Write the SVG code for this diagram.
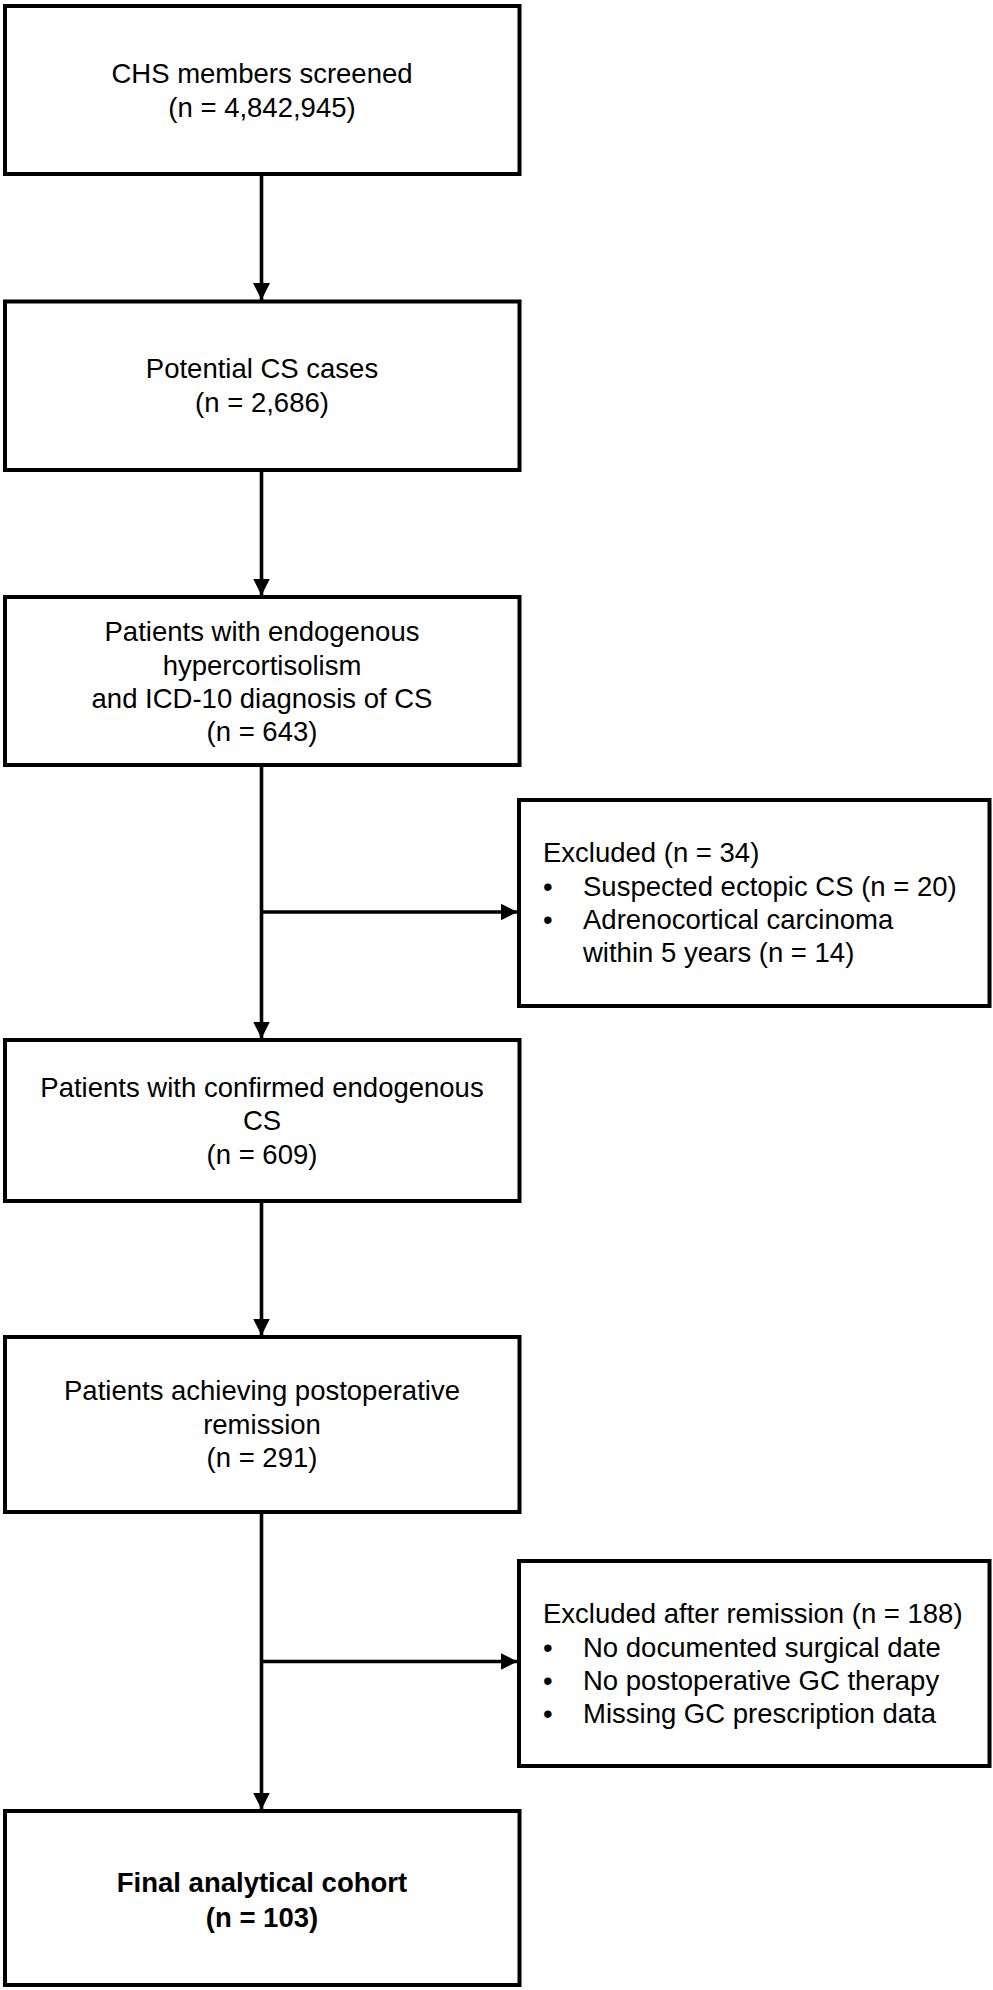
<svg xmlns="http://www.w3.org/2000/svg" width="993" height="1990" viewBox="0 0 993 1990">
<style>
.box{fill:#fff;stroke:#000;stroke-width:4}
.t{font-family:"Liberation Sans",Arial,sans-serif;font-size:27.5px;fill:#000}
.c{text-anchor:middle}
.b{font-weight:bold}
.con{stroke:#000;stroke-width:3.6;fill:none}
</style>
<defs>
<marker id="arr" markerUnits="userSpaceOnUse" markerWidth="18" markerHeight="18" refX="17" refY="8.5" orient="auto">
<path d="M0,0 L17,8.5 L0,17 z" fill="#000"/>
</marker>
</defs>
<rect width="993" height="1990" fill="#fff"/>
<g id="connectors">
<line class="con" x1="261.5" y1="176" x2="261.5" y2="300" marker-end="url(#arr)"/>
<line class="con" x1="261.5" y1="472" x2="261.5" y2="595.5" marker-end="url(#arr)"/>
<line class="con" x1="261.5" y1="767" x2="261.5" y2="1038.5" marker-end="url(#arr)"/>
<line class="con" x1="261.5" y1="912" x2="517.5" y2="912" marker-end="url(#arr)"/>
<line class="con" x1="261.5" y1="1203" x2="261.5" y2="1335.5" marker-end="url(#arr)"/>
<line class="con" x1="261.5" y1="1514" x2="261.5" y2="1809.5" marker-end="url(#arr)"/>
<line class="con" x1="261.5" y1="1661.5" x2="517.5" y2="1661.5" marker-end="url(#arr)"/>
</g>
<g id="n1">
<rect class="box" x="5" y="6" width="514.5" height="168"/>
<text class="t c" x="262" y="83">CHS members screened</text>
<text class="t c" x="262" y="117">(n = 4,842,945)</text>
</g>
<g id="n2">
<rect class="box" x="5" y="301.5" width="514.5" height="168.5"/>
<text class="t c" x="262" y="378">Potential CS cases</text>
<text class="t c" x="262" y="412">(n = 2,686)</text>
</g>
<g id="n3">
<rect class="box" x="5" y="597" width="514.5" height="168"/>
<text class="t c" x="262" y="641">Patients with endogenous</text>
<text class="t c" x="262" y="674.5">hypercortisolism</text>
<text class="t c" x="262" y="708">and ICD-10 diagnosis of CS</text>
<text class="t c" x="262" y="741">(n = 643)</text>
</g>
<g id="n4">
<rect class="box" x="519" y="800" width="470.5" height="206"/>
<text class="t" x="543" y="862">Excluded (n = 34)</text>
<text class="t" x="543" y="896">•</text>
<text class="t" x="583" y="896">Suspected ectopic CS (n = 20)</text>
<text class="t" x="543" y="929">•</text>
<text class="t" x="583" y="929">Adrenocortical carcinoma</text>
<text class="t" x="583" y="962">within 5 years (n = 14)</text>
</g>
<g id="n5">
<rect class="box" x="5" y="1040" width="514.5" height="161"/>
<text class="t c" x="262" y="1097">Patients with confirmed endogenous</text>
<text class="t c" x="262" y="1130">CS</text>
<text class="t c" x="262" y="1163.5">(n = 609)</text>
</g>
<g id="n6">
<rect class="box" x="5" y="1337" width="514.5" height="175"/>
<text class="t c" x="262" y="1400">Patients achieving postoperative</text>
<text class="t c" x="262" y="1433.5">remission</text>
<text class="t c" x="262" y="1467">(n = 291)</text>
</g>
<g id="n7">
<rect class="box" x="519" y="1561" width="470.5" height="205"/>
<text class="t" x="543" y="1623">Excluded after remission (n = 188)</text>
<text class="t" x="543" y="1657">•</text>
<text class="t" x="583" y="1657">No documented surgical date</text>
<text class="t" x="543" y="1690">•</text>
<text class="t" x="583" y="1690">No postoperative GC therapy</text>
<text class="t" x="543" y="1723">•</text>
<text class="t" x="583" y="1723">Missing GC prescription data</text>
</g>
<g id="n8">
<rect class="box" x="5" y="1811" width="514.5" height="174"/>
<text class="t c b" x="262" y="1892">Final analytical cohort</text>
<text class="t c b" x="262" y="1927">(n = 103)</text>
</g>
</svg>
